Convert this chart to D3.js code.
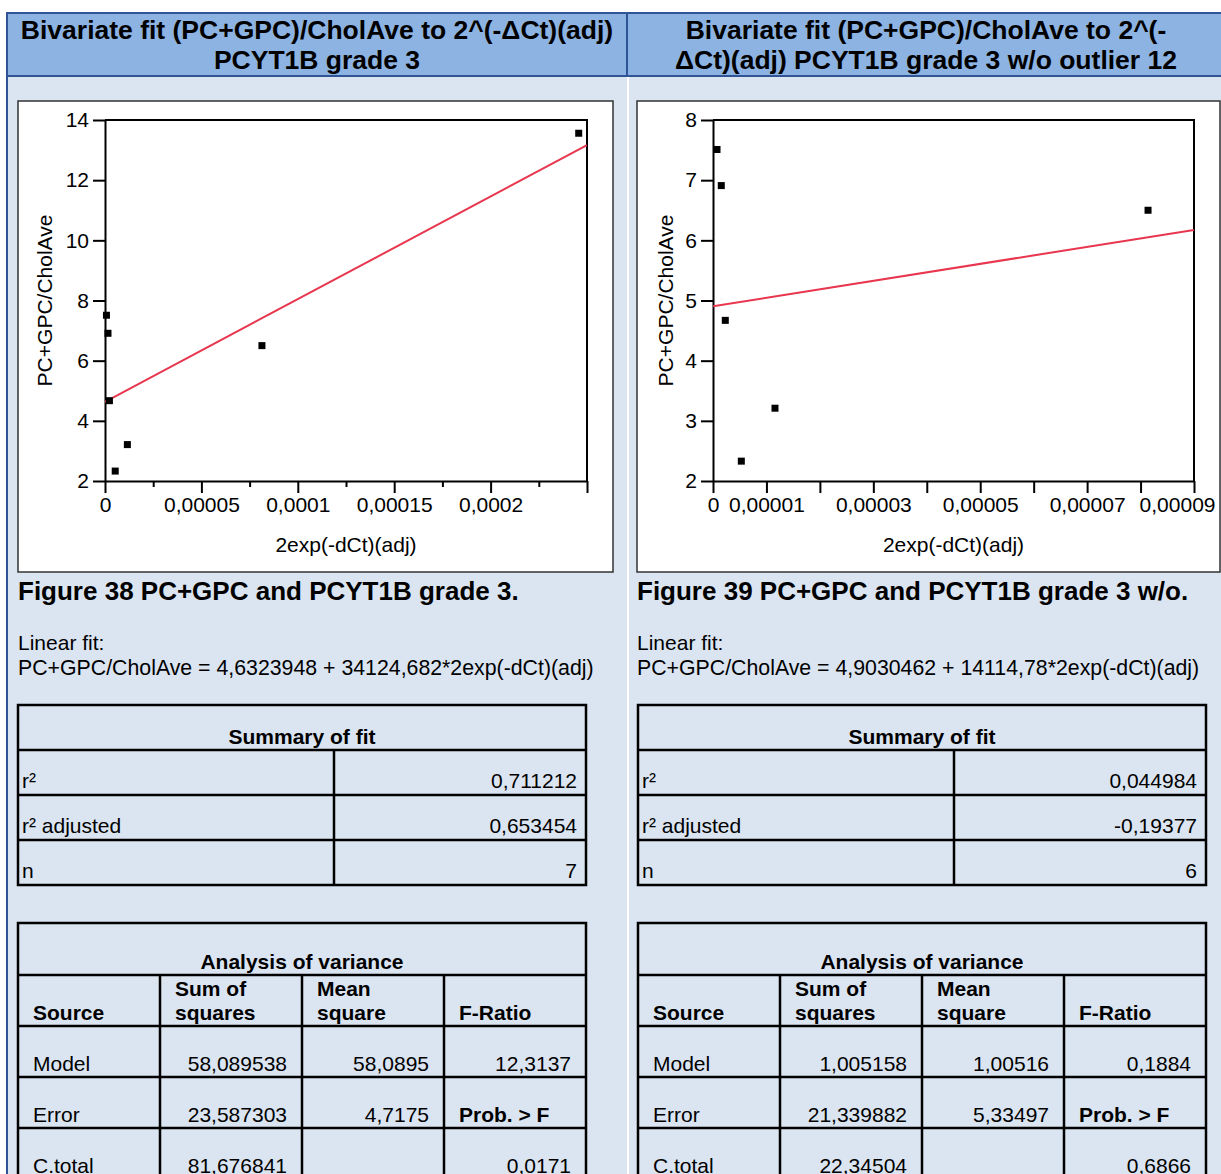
<!DOCTYPE html>
<html>
<head>
<meta charset="utf-8">
<script src="https://cdn.jsdelivr.net/npm/d3@7"></script>
<style>
  body { margin: 0; background: #fff; }
  svg { display: block; }
  text { font-family: Arial, "Liberation Sans", sans-serif; fill: #000; }
</style>
</head>
<body>
<svg id="page" width="1221" height="1174"></svg>
<script>
// data (x = 2exp(-dCt)(adj), y = PC+GPC/CholAve)
const xAdj = [0.00000075, 0.00000155, 0.0000023, 0.0000053, 0.0000116, 0.0000814, 0.0002457];
const pcGpc = [7.51, 6.91, 4.67, 2.33, 3.21, 6.50, 13.56];
const outlierIdx = 6;

// linear fits (intercept, slope) as printed under the plots
const fitAll = [4.6323948, 34124.682];
const fitNoOutlier = [4.9030462, 14114.78];

// axes
const xTicksA = [0, 0.00005, 0.0001, 0.00015, 0.0002, 0.00025];
const xLabelsA = ["0", "0,00005", "0,0001", "0,00015", "0,0002", ""];
const xMinorA = [0.000025, 0.000075, 0.000125, 0.000175, 0.000225];
const yTicksA = [2, 4, 6, 8, 10, 12, 14];

const xTicksB = [0, 0.00001, 0.00002, 0.00003, 0.00004, 0.00005, 0.00006, 0.00007, 0.00008, 0.00009];
const xLabelsB = ["0", "0,00001", "", "0,00003", "", "0,00005", "", "0,00007", "", "0,00009"];
const yTicksB = [2, 3, 4, 5, 6, 7, 8];

// texts
const headersA = ["Bivariate fit (PC+GPC)/CholAve to 2^(-ΔCt)(adj)", "PCYT1B grade 3"];
const headersB = ["Bivariate fit (PC+GPC)/CholAve to 2^(-", "ΔCt)(adj) PCYT1B grade 3 w/o outlier 12"];
const captionA = "Figure 38 PC+GPC and PCYT1B grade 3.";
const captionB = "Figure 39 PC+GPC and PCYT1B grade 3 w/o.";
const equationA = "PC+GPC/CholAve = 4,6323948 + 34124,682*2exp(-dCt)(adj)";
const equationB = "PC+GPC/CholAve = 4,9030462 + 14114,78*2exp(-dCt)(adj)";

// tables
const summaryA = [["r²", "0,711212"], ["r² adjusted", "0,653454"], ["n", "7"]];
const summaryB = [["r²", "0,044984"], ["r² adjusted", "-0,19377"], ["n", "6"]];
const anovaHead = [["Source"], ["Sum of", "squares"], ["Mean", "square"], ["F-Ratio"]];
const anovaA = [["Model", "58,089538", "58,0895", "12,3137"],
                ["Error", "23,587303", "4,7175", "Prob. > F"],
                ["C.total", "81,676841", "", "0,0171"]];
const anovaB = [["Model", "1,005158", "1,00516", "0,1884"],
                ["Error", "21,339882", "5,33497", "Prob. > F"],
                ["C.total", "22,34504", "", "0,6866"]];

const svg = d3.select("#page");

// page background, header band and column bodies
svg.append("rect").attr("x", 7).attr("y", 76).attr("width", 1214).attr("height", 1098).attr("fill", "#dbe5f1");
svg.append("rect").attr("x", 627).attr("y", 76).attr("width", 2).attr("height", 1098).attr("fill", "#fff");
svg.append("rect").attr("x", 7).attr("y", 13).attr("width", 1216).attr("height", 63)
  .attr("fill", "#8db3e2").attr("stroke", "#2f5597").attr("stroke-width", 2);
svg.append("line").attr("x1", 627).attr("x2", 627).attr("y1", 13).attr("y2", 76)
  .attr("stroke", "#2f5597").attr("stroke-width", 2);
svg.append("line").attr("x1", 7).attr("x2", 7).attr("y1", 13).attr("y2", 1174)
  .attr("stroke", "#2f5597").attr("stroke-width", 2);

function column(off, cx, o) {
  const g = svg.append("g");
  o.headers.forEach((h, i) => {
    g.append("text").attr("x", cx).attr("y", 39 + i * 30).attr("text-anchor", "middle")
      .attr("font-size", 26.5).attr("font-weight", "bold").text(h);
  });
  g.append("text").attr("x", off).attr("y", 600).attr("font-size", 26).attr("font-weight", "bold").text(o.caption);
  g.append("text").attr("x", off).attr("y", 650).attr("font-size", 21).text("Linear fit:");
  g.append("text").attr("x", off).attr("y", 675).attr("font-size", 21.3).text(o.equation);
}

function scatter(o) {
  const g = svg.append("g");
  g.append("rect").attr("x", o.frame[0]).attr("y", o.frame[1])
    .attr("width", o.frame[2] - o.frame[0]).attr("height", o.frame[3] - o.frame[1])
    .attr("fill", "#fff").attr("stroke", "#333").attr("stroke-width", 1.5);

  const x = d3.scaleLinear().domain(o.xDomain).range([o.left, o.right]);
  const y = d3.scaleLinear().domain(o.yDomain).range([o.bottom, o.top]);

  const xAxis = d3.axisBottom(x).tickValues(o.xTicks).tickSize(12).tickSizeOuter(0).tickPadding(4)
    .tickFormat((d, i) => o.xLabels[i]);
  const yAxis = d3.axisLeft(y).tickValues(o.yTicks).tickSize(12).tickSizeOuter(0).tickPadding(4)
    .tickFormat(d => d);

  const gx = g.append("g").attr("transform", `translate(0,${o.bottom})`).call(xAxis);
  const gy = g.append("g").attr("transform", `translate(${o.left},0)`).call(yAxis);
  if (o.xMinor) {
    g.append("g").attr("transform", `translate(0,${o.bottom})`)
      .call(d3.axisBottom(x).tickValues(o.xMinor).tickSize(6).tickFormat(""))
      .call(a => a.select(".domain").remove())
      .selectAll("line").attr("stroke", "#000").attr("stroke-width", 2);
  }
  [gx, gy].forEach(a => {
    a.selectAll("path, line").attr("stroke", "#000").attr("stroke-width", 2);
    a.selectAll("text").attr("font-size", 21).attr("font-family", "Arial, 'Liberation Sans', sans-serif").attr("fill", "#000");
  });
  // the last label sits against the frame edge, pulled left so it stays inside
  if (o.lastLabelEnd) {
    gx.selectAll(".tick").filter((d, i, n) => i === n.length - 1).select("text")
      .attr("text-anchor", "end").attr("x", o.lastLabelEnd - x(o.xDomain[1]));
  }
  // top and right frame of the plot area
  g.append("path").attr("d", `M${o.left},${o.top}H${o.right}V${o.bottom}`)
    .attr("fill", "none").attr("stroke", "#000").attr("stroke-width", 2);

  const clipId = "clip" + o.left;
  g.append("clipPath").attr("id", clipId).append("rect")
    .attr("x", o.left).attr("y", o.top).attr("width", o.right - o.left).attr("height", o.bottom - o.top);

  const line = d3.line().x(d => x(d)).y(d => y(o.fit[0] + o.fit[1] * d));
  g.append("path").datum(o.xDomain).attr("d", line).attr("clip-path", `url(#${clipId})`)
    .attr("fill", "none").attr("stroke", "#e8364f").attr("stroke-width", 2);

  g.selectAll("rect.pt").data(o.xs).join("rect").attr("class", "pt")
    .attr("x", d => x(d) - 3.5).attr("y", (d, i) => y(o.ys[i]) - 3.5)
    .attr("width", 7).attr("height", 7).attr("fill", "#000");

  g.append("text").attr("x", (o.left + o.right) / 2).attr("y", 552).attr("text-anchor", "middle")
    .attr("font-size", 21).text("2exp(-dCt)(adj)");
  g.append("text").attr("transform", `translate(${o.left - o.yLabelGap},${(o.top + o.bottom) / 2}) rotate(-90)`)
    .attr("text-anchor", "middle").attr("font-size", 21).text("PC+GPC/CholAve");
}

function summaryTable(x0, x1, xm, o) {
  const g = svg.append("g");
  const top = 705, rh = 45;
  g.append("text").attr("x", (x0 + x1) / 2).attr("y", top + 39).attr("text-anchor", "middle")
    .attr("font-size", 21).attr("font-weight", "bold").text("Summary of fit");
  o.forEach((r, i) => {
    const yb = top + rh * (i + 1);
    g.append("text").attr("x", x0 + 4).attr("y", yb + 38).attr("font-size", 21).text(r[0]);
    g.append("text").attr("x", x1 - 9).attr("y", yb + 38).attr("text-anchor", "end").attr("font-size", 21).text(r[1]);
    g.append("line").attr("x1", x0).attr("x2", x1).attr("y1", yb).attr("y2", yb).attr("stroke", "#000").attr("stroke-width", 2.5);
  });
  g.append("line").attr("x1", xm).attr("x2", xm).attr("y1", top + rh).attr("y2", top + rh * 4).attr("stroke", "#000").attr("stroke-width", 2.5);
  g.append("rect").attr("x", x0).attr("y", top).attr("width", x1 - x0).attr("height", rh * 4)
    .attr("fill", "none").attr("stroke", "#000").attr("stroke-width", 2.5);
}

function anovaTable(x0, x1, rows) {
  const g = svg.append("g");
  const top = 923, rows0 = 975, rh = 51;
  const cw = (x1 - x0) / 4;
  const cols = d3.range(5).map(i => x0 + i * cw);
  g.append("text").attr("x", (x0 + x1) / 2).attr("y", top + 46).attr("text-anchor", "middle")
    .attr("font-size", 21).attr("font-weight", "bold").text("Analysis of variance");
  anovaHead.forEach((h, c) => {
    h.forEach((s, k) => {
      g.append("text").attr("x", cols[c] + 15).attr("y", rows0 + 45 - (h.length - 1 - k) * 24)
        .attr("font-size", 21).attr("font-weight", "bold").text(s);
    });
  });
  rows.forEach((r, i) => {
    const yb = rows0 + rh * (i + 1);
    r.forEach((s, c) => {
      const isLabel = c === 0 || s === "Prob. > F";
      g.append("text").attr("x", isLabel ? cols[c] + 15 : cols[c + 1] - 15).attr("y", yb + 45)
        .attr("text-anchor", isLabel ? "start" : "end")
        .attr("font-size", 21).attr("font-weight", s === "Prob. > F" ? "bold" : "normal").text(s);
    });
  });
  [rows0, rows0 + rh, rows0 + rh * 2, rows0 + rh * 3].forEach(yy => {
    g.append("line").attr("x1", x0).attr("x2", x1).attr("y1", yy).attr("y2", yy).attr("stroke", "#000").attr("stroke-width", 2.5);
  });
  cols.slice(1, 4).forEach(xx => {
    g.append("line").attr("x1", xx).attr("x2", xx).attr("y1", rows0).attr("y2", 1180).attr("stroke", "#000").attr("stroke-width", 2.5);
  });
  g.append("path").attr("d", `M${x0},1180V${top}H${x1}V1180`)
    .attr("fill", "none").attr("stroke", "#000").attr("stroke-width", 2.5);
}

column(18, 317, { headers: headersA, caption: captionA, equation: equationA });
column(637, 926, { headers: headersB, caption: captionB, equation: equationB });

scatter({
  frame: [18, 101, 613, 572], left: 105, right: 587, top: 120, bottom: 481,
  xDomain: [0, 0.00025], yDomain: [2, 14], xTicks: xTicksA, xLabels: xLabelsA, xMinor: xMinorA, yTicks: yTicksA,
  xs: xAdj, ys: pcGpc, fit: fitAll, yLabelGap: 53, lastLabelEnd: null
});
scatter({
  frame: [637, 101, 1220, 572], left: 713, right: 1194, top: 120, bottom: 481,
  xDomain: [0, 0.00009], yDomain: [2, 8], xTicks: xTicksB, xLabels: xLabelsB, xMinor: null, yTicks: yTicksB,
  xs: xAdj.filter((d, i) => i !== outlierIdx), ys: pcGpc.filter((d, i) => i !== outlierIdx), fit: fitNoOutlier,
  yLabelGap: 40, lastLabelEnd: 1215
});

summaryTable(18, 586, 334, summaryA);
summaryTable(638, 1206, 954, summaryB);
anovaTable(18, 586, anovaA);
anovaTable(638, 1206, anovaB);
</script>
</body>
</html>
